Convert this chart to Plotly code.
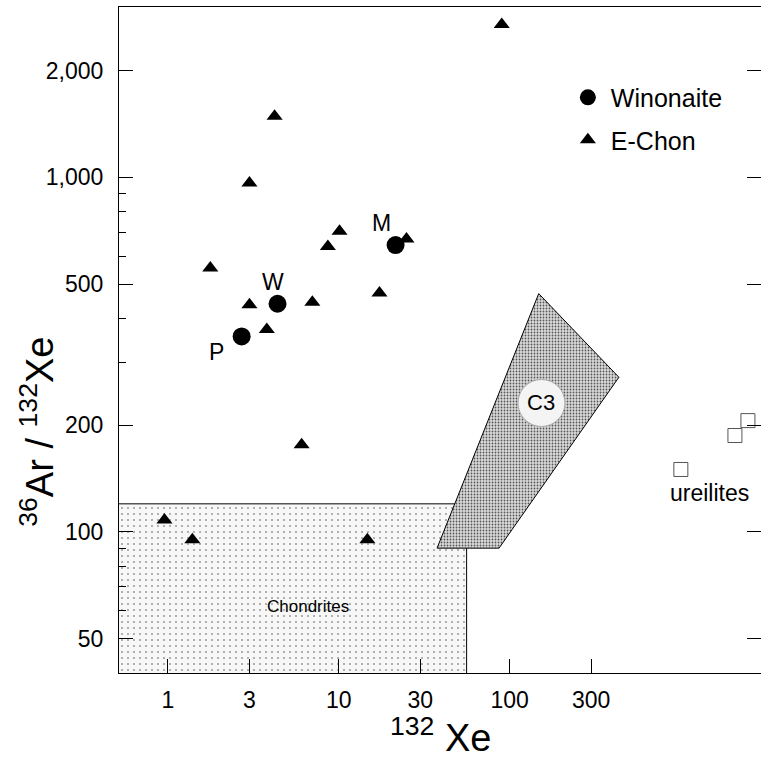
import math
import plotly.graph_objects as go

# ---------------- data ----------------
# Winonaites (132Xe, 36Ar/132Xe)
win_names = ["P", "W", "M"]
win_xe = [2.70, 4.38, 21.5]
win_ratio = [356, 440, 644]

# E-chondrites
echon_xe = [4.21, 3.00, 10.1, 8.63, 24.9, 1.77, 3.00, 7.00, 17.3, 3.79, 89.9, 6.06, 0.954, 1.39, 14.7]
echon_ratio = [1486, 964, 705, 638, 670, 555, 437, 444, 472, 372, 2700, 176, 108, 95, 95]

# Ureilites
ure_xe = [1005, 2083, 2482]
ure_ratio = [150, 187, 206]

# Chondrite field (upper right corner; extends past the axes)
chond_x = [0.3, 56, 56, 0.3]
chond_y = [120, 120, 30, 30]

# C3 field polygon
c3_x = [37.6, 86.7, 436, 148]
c3_y = [90, 90, 273, 470]
c3_label_x = [153.6]
c3_label_y = [231]

# free text labels
region_text = ["Chondrites", "ureilites"]
region_x = [6.6, 1486]
region_y = [61.5, 129]

# axes
x_tickvals = [1, 3, 10, 30, 100, 300]
x_ticktext = ["1", "3", "10", "30", "100", "300"]
y_tickvals = [50, 100, 200, 500, 1000, 2000]
y_ticktext = ["50", "100", "200", "500", "1,000", "2,000"]
y_minor = [60, 70, 80, 90, 300, 400, 600, 700, 800, 900]
x_range = [0.517, 2960]
y_range = [40.0, 3023]

FONT = "Liberation Sans, Arial, sans-serif"

fig = go.Figure()

fig.add_trace(go.Scatter(
    x=chond_x, y=chond_y, mode="lines", fill="toself",
    line=dict(color="black", width=1),
    fillpattern=dict(shape=".", size=6, solidity=0.06, fgcolor="#555555",
                     bgcolor="#f7f7f7", fillmode="replace"),
    showlegend=False, hoverinfo="skip"))

fig.add_trace(go.Scatter(
    x=c3_x + [c3_x[0]], y=c3_y + [c3_y[0]], mode="lines", fill="toself",
    line=dict(color="black", width=1),
    fillpattern=dict(shape=".", size=3, solidity=0.28, fgcolor="#555555",
                     bgcolor="#dadada", fillmode="replace"),
    showlegend=False, hoverinfo="skip"))

fig.add_trace(go.Scatter(
    x=c3_label_x, y=c3_label_y, mode="markers",
    marker=dict(symbol="circle", size=47, color="#f4f4f4",
                line=dict(color="#aaaaaa", width=1)),
    showlegend=False, hoverinfo="skip"))

fig.add_trace(go.Scatter(
    x=ure_xe, y=ure_ratio, mode="markers",
    marker=dict(symbol="square-open", size=14, color="#555555",
                line=dict(width=1)),
    showlegend=False, hoverinfo="skip"))

fig.add_trace(go.Scatter(
    x=echon_xe, y=echon_ratio, mode="markers", name="E-Chon",
    marker=dict(symbol="triangle-up", size=14, color="black"),
    legendgroup="e", legendrank=2))

fig.add_trace(go.Scatter(
    x=win_xe, y=win_ratio, mode="markers", name="Winonaite",
    marker=dict(symbol="circle", size=18, color="black"),
    legendgroup="w", legendrank=1))

annotations = []
# labels next to the winonaite points (pixel offsets)
name_offsets = [(-25, -16), (-5, 22), (-14, 22)]
for n, xv, yv, (dx, dy) in zip(win_names, win_xe, win_ratio, name_offsets):
    annotations.append(dict(x=math.log10(xv), y=math.log10(yv), xref="x", yref="y",
                            text=n, showarrow=False, xshift=dx, yshift=dy,
                            font=dict(family=FONT, size=23, color="black")))
annotations.append(dict(x=math.log10(c3_label_x[0]), y=math.log10(c3_label_y[0]),
                        xref="x", yref="y", text="C3", showarrow=False,
                        font=dict(family=FONT, size=22, color="black")))
region_sizes = [17, 23]
for t, xv, yv, fs in zip(region_text, region_x, region_y, region_sizes):
    annotations.append(dict(x=math.log10(xv), y=math.log10(yv), xref="x", yref="y",
                            text=t, showarrow=False,
                            font=dict(family=FONT, size=fs, color="black")))
# axis titles
annotations.append(dict(
    x=-0.128, y=0.362, xref="paper", yref="paper", textangle=-90,
    xanchor="center", yanchor="middle", showarrow=False,
    text="<sup>36</sup>Ar / <sup>132</sup>Xe",
    font=dict(family=FONT, size=38, color="black")))
annotations.append(dict(
    x=0.5, y=-0.093, xref="paper", yref="paper",
    xanchor="center", yanchor="middle", showarrow=False,
    text="<sup>132</sup> Xe",
    font=dict(family=FONT, size=38, color="black")))

yr = [math.log10(v) for v in y_range]

fig.update_layout(
    width=761, height=762,
    margin=dict(l=119, r=0, t=7, b=89, autoexpand=False),
    paper_bgcolor="white", plot_bgcolor="white",
    font=dict(family=FONT, size=23, color="black"),
    annotations=annotations,
    legend=dict(x=0.6945, y=0.8985, xanchor="left", yanchor="top",
                bgcolor="rgba(0,0,0,0)", font=dict(family=FONT, size=25),
                traceorder="grouped", tracegroupgap=7, itemwidth=36),
    xaxis=dict(
        type="log", range=[math.log10(v) for v in x_range], automargin=False,
        tickvals=x_tickvals, ticktext=x_ticktext,
        ticks="inside", ticklen=14, tickcolor="black", tickwidth=1,
        showline=True, linecolor="black", linewidth=1, mirror=True,
        showgrid=False, zeroline=False, ticklabelstandoff=6,
        tickfont=dict(family=FONT, size=23)),
    yaxis=dict(
        type="log", range=yr, automargin=False,
        tickvals=y_tickvals, ticktext=y_ticktext,
        ticks="inside", ticklen=14, tickcolor="black", tickwidth=1,
        minor=dict(tickvals=y_minor, ticks="inside", ticklen=7,
                   tickcolor="black"),
        showline=True, linecolor="black", linewidth=1, mirror=False,
        showgrid=False, zeroline=False, ticklabelstandoff=10,
        tickfont=dict(family=FONT, size=23)),
    yaxis2=dict(
        type="log", range=yr, automargin=False, overlaying="y", side="right",
        anchor="x", tickvals=y_tickvals, showticklabels=False,
        ticks="inside", ticklen=14, tickcolor="black", tickwidth=1,
        showline=False, showgrid=False, zeroline=False, fixedrange=True),
)

# an empty trace so the right-hand tick axis is drawn
fig.add_trace(go.Scatter(x=[], y=[], yaxis="y2", showlegend=False, hoverinfo="skip"))

fig.write_html(
    "out.html",
    config={"displayModeBar": False},
    post_script="document.body.style.margin='0';document.body.style.overflow='hidden';",
)
